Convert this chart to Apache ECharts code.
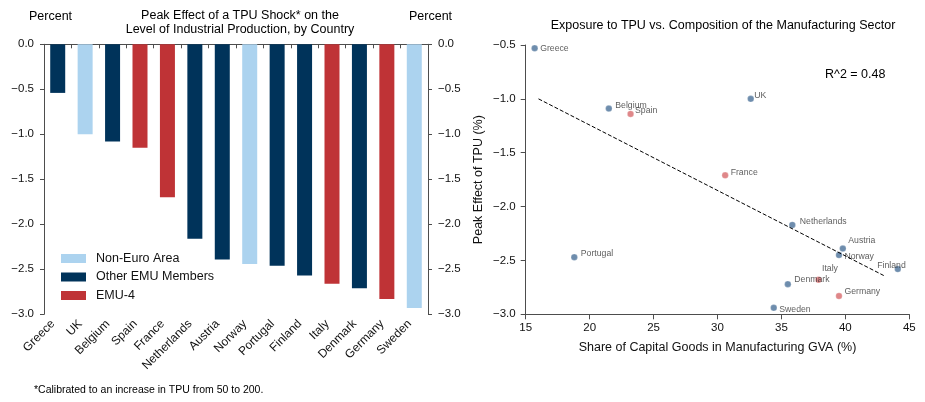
<!DOCTYPE html>
<html>
<head>
<meta charset="utf-8">
<script src="https://cdn.jsdelivr.net/npm/echarts@6/dist/echarts.min.js"></script>
<style>
html,body{margin:0;padding:0;background:#fff;}
#c{width:925px;height:402px;}
</style>
</head>
<body>
<div id="c"></div>
<script>
// ---- Data ----
const countries = ['Greece','UK','Belgium','Spain','France','Netherlands','Austria','Norway','Portugal','Finland','Italy','Denmark','Germany','Sweden'];
const peakEffect = [-0.54,-1.00,-1.08,-1.15,-1.70,-2.16,-2.39,-2.44,-2.46,-2.57,-2.66,-2.71,-2.83,-2.93];
const barGroup = ['Other EMU Members','Non-Euro Area','Other EMU Members','EMU-4','EMU-4','Other EMU Members','Other EMU Members','Non-Euro Area','Other EMU Members','Other EMU Members','EMU-4','Other EMU Members','EMU-4','Non-Euro Area'];
const groups = ['Non-Euro Area','Other EMU Members','EMU-4'];
const capShare = [15.7,32.6,21.5,23.2,30.6,35.85,39.8,39.5,18.8,44.1,37.9,35.5,39.5,34.4];
const scatterY = [-0.53,-1.00,-1.09,-1.14,-1.71,-2.17,-2.39,-2.45,-2.47,-2.58,-2.68,-2.72,-2.83,-2.94];
const trendX = [16.0, 43.0];
const trendY = [-1.00, -2.64];
const rSquared = 'R^2 = 0.48';

// ---- Styles ----
const FONT = 'Liberation Sans';
const AX = '#4d4d4d';
const barColors = {'Non-Euro Area':'#acd3ef','Other EMU Members':'#00335a','EMU-4':'#bf3336'};
const dotColors = {emu4:'#d7696c', other:'#4a7098'};
const labelOffsets = {
  Greece:[2,0], UK:[0,-3], Belgium:[3,-3], Spain:[1,-3], France:[2,-3], Netherlands:[4,-3],
  Austria:[2,-8], Norway:[2,2], Finland:[-24,-3], Portugal:[3,-4], Italy:[0,-11],
  Denmark:[3,-5], Germany:[2,-4], Sweden:[2,2]
};
const fmt = v => (v < 0 ? '\u2212' : '') + Math.abs(v).toFixed(1);

const chart = echarts.init(document.getElementById('c'), null, {renderer:'canvas'});

const barSeries = groups.map(g => ({
  name: g, type: 'bar', xAxisIndex: 0, yAxisIndex: 0,
  barWidth: 15, barGap: '-100%',
  itemStyle: {color: barColors[g]},
  data: peakEffect.map((v,i) => barGroup[i] === g ? v : '-')
}));

const scatterData = countries.map((c,i) => {
  const emu4 = barGroup[i] === 'EMU-4';
  return {
    value: [capShare[i], scatterY[i]],
    name: c,
    itemStyle: {color: emu4 ? dotColors.emu4 : dotColors.other},
    label: {offset: labelOffsets[c]}
  };
});

const yAxisCommon = {
  type: 'value', min: -3, max: 0, interval: 0.5, gridIndex: 0,
  splitLine: {show: false},
  axisLine: {show: true, lineStyle: {color: AX, width: 1}},
  axisTick: {show: true, length: 4, lineStyle: {color: AX}},
  axisLabel: {fontFamily: FONT, fontSize: 11.5, color: '#111', margin: 10, formatter: fmt}
};

chart.setOption({
  animation: false,
  textStyle: {fontFamily: FONT},
  title: [
    {text: 'Peak Effect of a TPU Shock* on the\nLevel of Industrial Production, by Country', left: 235, top: 4, textAlign: 'center',
      textStyle: {fontFamily: FONT, fontSize: 12.5, fontWeight: 'normal', color: '#000', lineHeight: 14}},
    {text: 'Percent', left: 24, top: 5, textStyle: {fontFamily: FONT, fontSize: 12.5, fontWeight: 'normal', color: '#000'}},
    {text: 'Percent', left: 404, top: 5, textStyle: {fontFamily: FONT, fontSize: 12.5, fontWeight: 'normal', color: '#000'}},
    {text: 'Exposure to TPU vs. Composition of the Manufacturing Sector', left: 718, top: 14, textAlign: 'center',
      textStyle: {fontFamily: FONT, fontSize: 12.5, fontWeight: 'normal', color: '#000'}},
    {text: rSquared, left: 820, top: 63, textStyle: {fontFamily: FONT, fontSize: 12.5, fontWeight: 'normal', color: '#000'}},
    {text: '*Calibrated to an increase in TPU from 50 to 200.', left: 29, top: 380,
      textStyle: {fontFamily: FONT, fontSize: 10.5, fontWeight: 'normal', color: '#000'}}
  ],
  legend: {
    data: groups, orient: 'vertical', left: 56, top: 247,
    itemWidth: 25, itemHeight: 9, itemGap: 5.5, icon: 'rect',
    textStyle: {fontFamily: FONT, fontSize: 12.5, color: '#111', padding: [0,0,0,5]}
  },
  grid: [
    {left: 44, right: 497, top: 44.3, bottom: 87.7},
    {left: 525.7, right: 15.7, top: 45, bottom: 87.7}
  ],
  xAxis: [
    {type: 'category', gridIndex: 0, data: countries, boundaryGap: true, position: 'bottom',
      axisLine: {show: true, lineStyle: {color: AX}}, axisTick: {show: false},
      axisLabel: {rotate: 45, interval: 0, fontFamily: FONT, fontSize: 12, color: '#111', margin: 3,
        formatter: s => s + '  '}},
    {type: 'category', gridIndex: 0, data: countries.concat(['']), boundaryGap: false, position: 'bottom',
      axisLine: {show: false},
      axisTick: {show: true, length: 4, lineStyle: {color: AX}, interval: (i) => i < countries.length},
      axisLabel: {show: false}},
    {type: 'value', gridIndex: 1, min: 15, max: 45, interval: 5,
      name: 'Share of Capital Goods in Manufacturing GVA (%)', nameLocation: 'middle', nameGap: 27,
      nameTextStyle: {fontFamily: FONT, fontSize: 12.5, color: '#111'},
      splitLine: {show: false},
      axisLine: {show: true, onZero: false, lineStyle: {color: AX}},
      axisTick: {show: true, length: 5, lineStyle: {color: AX}},
      axisLabel: {fontFamily: FONT, fontSize: 11.5, color: '#111', margin: 8}}
  ],
  yAxis: [
    Object.assign({}, yAxisCommon, {position: 'left'}),
    Object.assign({}, yAxisCommon, {position: 'right'}),
    {type: 'value', gridIndex: 1, min: -3, max: -0.5, interval: 0.5,
      name: 'Peak Effect of TPU (%)', nameLocation: 'middle', nameGap: 41, nameRotate: 90,
      nameTextStyle: {fontFamily: FONT, fontSize: 12.5, color: '#111'},
      splitLine: {show: false},
      axisLine: {show: true, onZero: false, lineStyle: {color: AX}},
      axisTick: {show: true, length: 5, lineStyle: {color: AX}},
      axisLabel: {fontFamily: FONT, fontSize: 11.5, color: '#111', margin: 10, formatter: fmt}}
  ],
  series: barSeries.concat([
    {type: 'line', xAxisIndex: 2, yAxisIndex: 2, symbol: 'none', silent: true,
      lineStyle: {color: '#000', width: 1, type: [4, 2]},
      data: trendX.map((x,i) => [x, trendY[i]])},
    {type: 'scatter', xAxisIndex: 2, yAxisIndex: 2, symbolSize: 6.5,
      itemStyle: {borderColor: 'rgba(255,255,255,0.6)', borderWidth: 0.5},
      label: {show: true, position: 'right', distance: 0, formatter: '{b}',
        fontFamily: FONT, fontSize: 8.7, color: '#333', align: 'left', verticalAlign: 'middle'},
      data: scatterData}
  ])
});
</script>
</body>
</html>
